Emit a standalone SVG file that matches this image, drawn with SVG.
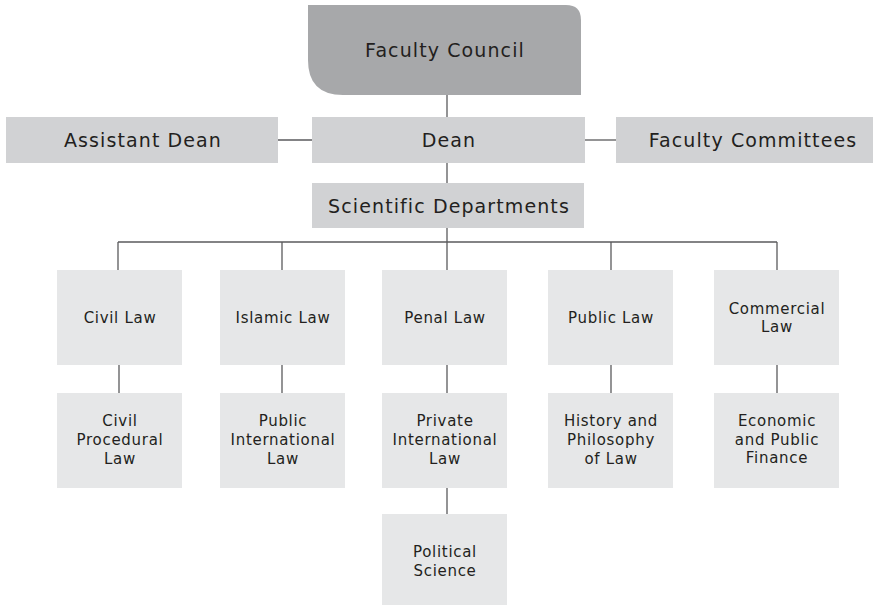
<svg xmlns="http://www.w3.org/2000/svg" width="879" height="607" viewBox="0 0 879 607">
<style>
text{font-family:"DejaVu Sans","Liberation Sans",sans-serif;fill:#231f20;text-anchor:middle;dominant-baseline:central}
.big{font-size:19px;letter-spacing:1.1px}
.sm{font-size:15px;letter-spacing:0.7px}
.top{fill:#d1d2d4}
.sub{fill:#e6e7e8}
.conn line{stroke:#5a5a5c;stroke-width:1.3}
</style>
<rect width="879" height="607" fill="#fff"/>
<g class="conn">
<line x1="447" y1="95" x2="447" y2="117"/>
<line x1="278" y1="140" x2="312" y2="140"/>
<line x1="585" y1="140" x2="616" y2="140"/>
<line x1="447" y1="163" x2="447" y2="183"/>
<line x1="447" y1="228" x2="447" y2="270"/>
<line x1="118" y1="242" x2="777" y2="242"/>
<line x1="118" y1="242" x2="118" y2="270"/>
<line x1="282" y1="242" x2="282" y2="270"/>
<line x1="611" y1="242" x2="611" y2="270"/>
<line x1="777" y1="242" x2="777" y2="270"/>
<line x1="119" y1="365" x2="119" y2="393"/>
<line x1="282" y1="365" x2="282" y2="393"/>
<line x1="447" y1="365" x2="447" y2="393"/>
<line x1="611" y1="365" x2="611" y2="393"/>
<line x1="777" y1="365" x2="777" y2="393"/>
<line x1="447" y1="488" x2="447" y2="514"/>
</g>
<g id="faculty-council">
<path d="M308 5 H566 Q581 5 581 20 V95 H343 Q308 95 308 60 Z" fill="#a7a8aa"/>
<text class="big" x="445" y="50">Faculty Council</text>
</g>
<g id="assistant-dean"><rect class="top" x="6" y="117" width="272" height="46"/><text class="big" x="143" y="140">Assistant Dean</text></g>
<g id="dean"><rect class="top" x="312" y="117" width="273" height="46"/><text class="big" x="449" y="140">Dean</text></g>
<g id="faculty-committees"><rect class="top" x="616" y="117" width="257" height="46"/><text class="big" x="753" y="140">Faculty Committees</text></g>
<g id="scientific-departments"><rect class="top" x="312" y="183" width="272" height="45"/><text class="big" x="449" y="206">Scientific Departments</text></g>
<g id="civil-law"><rect class="sub" x="57" y="270" width="125" height="95"/><text class="sm" x="120" y="318">Civil Law</text></g>
<g id="islamic-law"><rect class="sub" x="220" y="270" width="125" height="95"/><text class="sm" x="283" y="318">Islamic Law</text></g>
<g id="penal-law"><rect class="sub" x="382" y="270" width="125" height="95"/><text class="sm" x="445" y="318">Penal Law</text></g>
<g id="public-law"><rect class="sub" x="548" y="270" width="125" height="95"/><text class="sm" x="611" y="318">Public Law</text></g>
<g id="commercial-law"><rect class="sub" x="714" y="270" width="125" height="95"/><text class="sm" x="777" y="309">Commercial</text><text class="sm" x="777" y="327">Law</text></g>
<g id="civil-procedural-law"><rect class="sub" x="57" y="393" width="125" height="95"/><text class="sm" x="120" y="421">Civil</text><text class="sm" x="120" y="440">Procedural</text><text class="sm" x="120" y="459">Law</text></g>
<g id="public-international-law"><rect class="sub" x="220" y="393" width="125" height="95"/><text class="sm" x="283" y="421">Public</text><text class="sm" x="283" y="440">International</text><text class="sm" x="283" y="459">Law</text></g>
<g id="private-international-law"><rect class="sub" x="382" y="393" width="125" height="95"/><text class="sm" x="445" y="421">Private</text><text class="sm" x="445" y="440">International</text><text class="sm" x="445" y="459">Law</text></g>
<g id="history-philosophy-law"><rect class="sub" x="548" y="393" width="125" height="95"/><text class="sm" x="611" y="421">History and</text><text class="sm" x="611" y="440">Philosophy</text><text class="sm" x="611" y="459">of Law</text></g>
<g id="economic-public-finance"><rect class="sub" x="714" y="393" width="125" height="95"/><text class="sm" x="777" y="421">Economic</text><text class="sm" x="777" y="440">and Public</text><text class="sm" x="777" y="458">Finance</text></g>
<g id="political-science"><rect class="sub" x="382" y="514" width="125" height="91"/><text class="sm" x="445" y="552">Political</text><text class="sm" x="445" y="571">Science</text></g>
</svg>
